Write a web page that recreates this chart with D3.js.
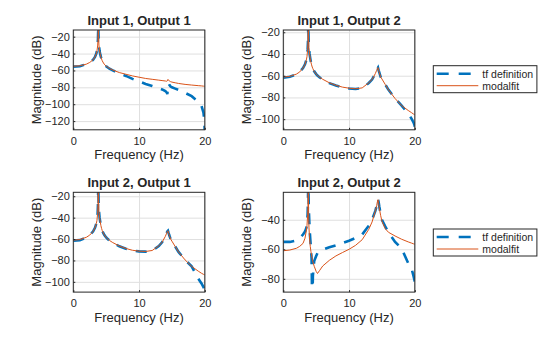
<!DOCTYPE html>
<html lang="en">
<head>
    <meta charset="UTF-8">
    <title>tf definition vs modalfit</title>
    <script src="https://cdnjs.cloudflare.com/ajax/libs/d3/7.8.5/d3.min.js"></script>
    <style>
        body {
            margin: 0;
            background: #ffffff;
            font-family: 'Liberation Sans', Arial, Helvetica, sans-serif;
        }

        #chart {
            display: block;
        }

        .tick text {
            font-size: 11px;
            fill: #262626;
        }

        .tick line {
            stroke: #262626;
        }

        .grid .tick line {
            stroke: #dfdfdf;
            stroke-width: 1;
        }

        .panel-title {
            font-size: 13px;
            font-weight: bold;
            fill: #262626;
            text-anchor: middle;
        }

        .axis-label {
            font-size: 13px;
            fill: #262626;
            text-anchor: middle;
        }

        .legend-text {
            font-size: 10.5px;
            fill: #262626;
        }
    </style>
</head>
<body>
    <svg id="chart" width="560" height="337"></svg>

    <script>
        // frequency grid (Hz), denser around the two modes
        const freq = [
            0, 1, 2, 2.5, 3, 3.3, 3.5, 3.6, 3.7, 3.75,
            3.8, 3.85, 3.9, 4.0, 4.1, 4.2, 4.3, 4.4, 4.5, 4.7,
            5, 5.2, 5.5, 6, 7, 8, 9, 10, 11, 12,
            13, 13.5, 14, 14.2, 14.3, 14.4, 14.5, 14.6, 14.8, 15,
            15.5, 16, 17, 18, 19, 19.5, 19.8, 19.95, 20
        ];

        // magnitudes in dB
        const tf11 = [
            -55.5, -55, -52.5, -50.5, -47.5, -44, -40, -36.5, -30, -23,
            -6, -22, -30, -37, -41, -44, -46.5, -48.5, -50, -52.5,
            -55, -56.3, -58, -60, -63.5, -66.5, -70, -73, -76, -78.5,
            -81, -82.5, -84.5, -86, -88, -80, -75.5, -77, -79, -80,
            -81.5, -83, -86.5, -90.5, -97, -102, -110, -122, -140
        ];
        const fit11 = [
            -55, -54.5, -52.5, -50.5, -47.5, -44, -40, -37, -31, -25,
            -8, -22, -30, -37, -41, -44, -46.5, -48.5, -50, -52.5,
            -55, -56, -57.5, -59.5, -62.5, -64.5, -66.5, -68, -69.5, -70.5,
            -71.5, -72, -72.5, -72.8, -72.3, -70.6, -71.6, -72.5, -73.3, -73.8,
            -74.6, -75.4, -76.5, -77.3, -78, -78.3, -78.6, -78.7, -78.8
        ];

        const tf12 = [
            -61.8, -61, -58.8, -56.5, -53, -49.5, -45.5, -42.5, -36, -29,
            -10, -26, -34, -40, -44, -47.5, -50, -52, -53.5, -56,
            -58.5, -59.8, -61.5, -63.5, -66.8, -69, -70.7, -71.7, -72.2, -71.4,
            -66.7, -63.5, -58, -55, -53.5, -52.5, -55, -57, -61, -63,
            -68, -73, -81, -87.5, -95, -99.5, -103, -105.5, -107
        ];
        const fit12 = [
            -61.2, -60.6, -58.5, -56.5, -53, -49.5, -45.5, -42.5, -36, -30,
            -12, -27, -34, -40, -44, -47.5, -50, -52, -53.5, -56,
            -58.5, -59.8, -61.3, -63.3, -66.5, -68.8, -70.5, -71.5, -72, -71.2,
            -66.5, -63.5, -58, -55, -53.5, -52.5, -55, -57, -61, -63,
            -68, -73, -81, -87.5, -92, -94, -95.3, -95.8, -96
        ];

        const tf21 = [
            -61.5, -61, -58.5, -56.3, -53, -49.5, -45.5, -42.5, -36, -28,
            -8, -25, -33.5, -40, -44, -47.5, -50, -52, -53.5, -56,
            -58.5, -59.8, -61.5, -63.5, -66.8, -69, -70.7, -71.5, -71.8, -70.9,
            -66.5, -63, -57.5, -54.5, -53, -52.3, -54.5, -56.5, -60, -62,
            -67, -72, -79.5, -85.5, -97, -101.5, -105, -107, -108
        ];
        const fit21 = [
            -61, -60.5, -58.3, -56.3, -53, -49.5, -45.5, -42.5, -36, -29,
            -10, -26, -34, -40, -44, -47.5, -50, -52, -53.5, -56,
            -58.5, -59.8, -61.3, -63.3, -66.5, -68.8, -70.5, -71.3, -71.6, -70.7,
            -66.3, -63, -57.5, -54.5, -53, -52.3, -54.5, -56.5, -60, -62,
            -67, -72, -79.5, -85.5, -90, -92, -93, -93.4, -93.6
        ];

        const tf22 = [
            -55, -55, -54, -52.5, -50, -48, -45.5, -43, -36, -28,
            -10, -25, -35, -46, -53, -59, -66, -100, -78, -68,
            -64.5, -62.5, -61.3, -60.3, -58.6, -57.3, -55.8, -54.2, -52.3, -50,
            -44, -40, -34, -30.5, -28, -26, -28, -31, -36, -40,
            -44.5, -48.5, -55, -59.5, -69.5, -73, -78, -81, -82.5
        ];
        const fit22 = [
            -61, -60.5, -59.3, -58, -56, -52.5, -47.5, -44, -37, -31,
            -14, -35, -45, -53, -58, -61.5, -64, -66.5, -68.5, -71.5,
            -75, -76.4, -74.5, -71.3, -67.5, -64.5, -62.2, -60, -57.3, -53.5,
            -46.5, -41.5, -34, -30.5, -28, -26.4, -29, -32, -37, -41,
            -46, -48.5, -51, -53.2, -55, -55.8, -56.3, -56.5, -56.6
        ];

        const titles = ['Input 1, Output 1', 'Input 1, Output 2', 'Input 2, Output 1', 'Input 2, Output 2'];
        const xTicks = [0, 10, 20];
        const yTicks11 = [-120, -100, -80, -60, -40, -20];
        const yTicks12 = [-100, -80, -60, -40, -20];
        const yTicks21 = [-100, -80, -60, -40, -20];
        const yTicks22 = [-80, -60, -40];
        const yLim11 = [-130.3, -12.1];
        const yLim12 = [-109.8, -17.9];
        const yLim21 = [-109.6, -16.3];
        const yLim22 = [-89, -21.4];
        const seriesNames = ['tf definition', 'modalfit'];

        const svg = d3.select('#chart');
        const blue = '#0072BD';
        const orange = '#D95319';
        const ink = '#262626';
        const dash = '11,9';

        const colX = [73.3, 283.3];
        const rowY = [30, 192.3];
        const plotW = 131.5;
        const plotH = 99.8;

        const panels = [
            { title: titles[0], tf: tf11, fit: fit11, ticks: yTicks11, lim: yLim11, col: 0, row: 0 },
            { title: titles[1], tf: tf12, fit: fit12, ticks: yTicks12, lim: yLim12, col: 1, row: 0 },
            { title: titles[2], tf: tf21, fit: fit21, ticks: yTicks21, lim: yLim21, col: 0, row: 1 },
            { title: titles[3], tf: tf22, fit: fit22, ticks: yTicks22, lim: yLim22, col: 1, row: 1 }
        ];

        panels.forEach((p, i) => drawPanel(p, i));

        function drawPanel(p, i) {
            const left = colX[p.col];
            const top = rowY[p.row];
            const g = svg.append('g').attr('transform', `translate(${left},${top})`);

            const x = d3.scaleLinear().domain([0, 20]).range([0, plotW]);
            const y = d3.scaleLinear().domain(p.lim).range([plotH, 0]);

            // grid
            g.append('g')
                .attr('class', 'grid')
                .call(d3.axisLeft(y).tickValues(p.ticks).tickSize(-plotW).tickFormat(''))
                .call(s => s.select('.domain').remove());
            g.append('g')
                .attr('class', 'grid')
                .attr('transform', `translate(0,${plotH})`)
                .call(d3.axisBottom(x).tickValues(xTicks).tickSize(-plotH).tickFormat(''))
                .call(s => s.select('.domain').remove());

            // curves, clipped to the axes box
            const clipId = `clip-${i}`;
            svg.append('defs').append('clipPath').attr('id', clipId)
                .append('rect').attr('width', plotW).attr('height', plotH);

            const line = d3.line()
                .x((d, k) => x(freq[k]))
                .y(d => y(d));

            const curves = g.append('g').attr('clip-path', `url(#${clipId})`);
            curves.append('path')
                .attr('d', line(p.tf))
                .attr('fill', 'none')
                .attr('stroke', blue)
                .attr('stroke-width', 2.6)
                .attr('stroke-dasharray', dash);
            curves.append('path')
                .attr('d', line(p.fit))
                .attr('fill', 'none')
                .attr('stroke', orange)
                .attr('stroke-width', 1);

            // ticks and labels
            g.append('g')
                .call(d3.axisLeft(y).tickValues(p.ticks).tickSizeInner(-2).tickSizeOuter(0).tickPadding(3.5))
                .call(s => s.select('.domain').remove());
            g.append('g')
                .attr('transform', `translate(0,${plotH})`)
                .call(d3.axisBottom(x).tickValues(xTicks).tickSizeInner(-2).tickSizeOuter(0).tickPadding(7))
                .call(s => s.select('.domain').remove());

            // box
            g.append('rect')
                .attr('width', plotW)
                .attr('height', plotH)
                .attr('fill', 'none')
                .attr('stroke', ink)
                .attr('stroke-width', 1);

            g.append('text')
                .attr('class', 'panel-title')
                .attr('x', plotW / 2)
                .attr('y', -5)
                .text(p.title);

            g.append('text')
                .attr('class', 'axis-label')
                .attr('x', plotW / 2)
                .attr('y', plotH + 29.5)
                .text('Frequency (Hz)');

            g.append('text')
                .attr('class', 'axis-label')
                .attr('transform', `translate(-32.5,${plotH / 2}) rotate(-90)`)
                .text('Magnitude (dB)');
        }

        // legends, one per row
        [65.7, 229].forEach(top => {
            const lg = svg.append('g').attr('transform', `translate(433.3,${top})`);
            lg.append('rect')
                .attr('width', 103.6)
                .attr('height', 27)
                .attr('fill', '#ffffff')
                .attr('stroke', ink)
                .attr('stroke-width', 1);

            const rows = [
                { name: seriesNames[0], color: blue, width: 2.6, dash: '12,10', y: 8 },
                { name: seriesNames[1], color: orange, width: 1, dash: null, y: 20 }
            ];
            rows.forEach(r => {
                lg.append('line')
                    .attr('x1', 3.4).attr('x2', 45)
                    .attr('y1', r.y).attr('y2', r.y)
                    .attr('stroke', r.color)
                    .attr('stroke-width', r.width)
                    .attr('stroke-dasharray', r.dash);
                lg.append('text')
                    .attr('class', 'legend-text')
                    .attr('x', 49)
                    .attr('y', r.y + 4)
                    .text(r.name);
            });
        });
    </script>
</body>
</html>
